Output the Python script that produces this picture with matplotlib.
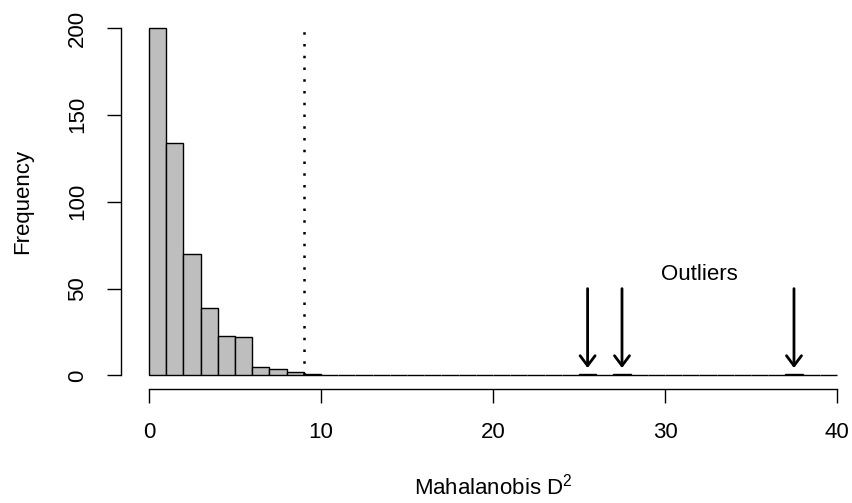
import numpy as np
import matplotlib
matplotlib.use("Agg")
import matplotlib.pyplot as plt

plt.rcParams['font.family'] = ['Liberation Sans', 'DejaVu Sans']
plt.rcParams['mathtext.fontset'] = 'custom'
plt.rcParams['mathtext.rm'] = 'Liberation Sans'
plt.rcParams['mathtext.default'] = 'regular'

# histogram of squared Mahalanobis distances, unit-width bins from 0 to 40
bin_edges = np.arange(0, 41, 1)
counts = [200, 134, 70, 39, 23, 22, 5, 4, 2, 1,
          0, 0, 0, 0, 0, 0, 0, 0, 0, 0,
          0, 0, 0, 0, 0, 1, 0, 1, 0, 0,
          0, 0, 0, 0, 0, 0, 0, 1, 0, 0]
cutoff = 9
outlier_x = [25.5, 27.5, 37.5]
x_ticks = [0, 10, 20, 30, 40]
y_ticks = [0, 50, 100, 150, 200]

fs = 16
fig = plt.figure(figsize=(8.53, 5.03), dpi=100)
ax = fig.add_axes([121.5 / 853, 1 - 389.4 / 503, 743 / 853, 375.3 / 503])

ax.bar(bin_edges[:-1], counts, width=1, align='edge', color='#bebebe',
       edgecolor='black', linewidth=1.0)

ax.plot([cutoff, cutoff], [0, 198], color='black', lw=1.8,
        linestyle=(0, (1, 3.7)), dash_capstyle='butt')

for x in outlier_x:
    ax.annotate('', xy=(x, 4.3), xytext=(x, 50),
                arrowprops=dict(arrowstyle='->,head_length=0.36,head_width=0.27',
                                lw=2, color='black', shrinkA=0, shrinkB=0,
                                mutation_scale=20))
ax.text(32, 55, 'Outliers', ha='center', va='baseline', fontsize=fs)

ax.set_xlim(-1.6, 41.6)
ax.set_ylim(-8, 208)
for s in ['top', 'right']:
    ax.spines[s].set_visible(False)
ax.spines['bottom'].set_bounds(0, 40)
ax.spines['left'].set_bounds(0, 200)
for s in ['bottom', 'left']:
    ax.spines[s].set_linewidth(1.0)

ax.set_xticks(x_ticks)
ax.set_yticks(y_ticks)
ax.tick_params(axis='both', length=9.8, width=1.0, labelsize=fs)
ax.tick_params(axis='x', pad=13.5)
ax.tick_params(axis='y', pad=14.4)
plt.setp(ax.get_yticklabels(), rotation=90, va='center')

ax.set_xlabel('Mahalanobis D$^2$', fontsize=fs)
ax.xaxis.set_label_coords(0.5, -0.225)
ax.set_ylabel('Frequency', fontsize=fs)
ax.yaxis.set_label_coords(-0.119, 0.5)

fig.savefig('out.png', dpi=100)
